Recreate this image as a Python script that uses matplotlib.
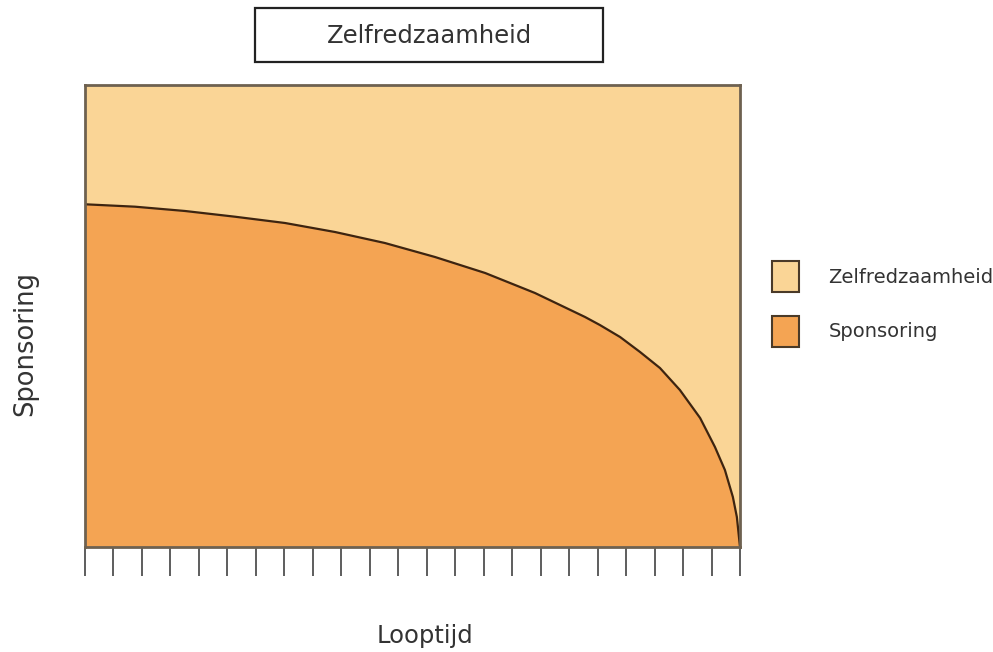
import numpy as np
import matplotlib
matplotlib.use("Agg")
import matplotlib.pyplot as plt
from matplotlib.patches import Patch, Rectangle

# Data (x in tick units, y in % of axis height)
looptijd = [0, 1.756, 3.511, 5.267, 7.023, 8.779, 10.53, 12.29, 14.05, 15.80,
            17.56, 18.08, 18.79, 19.49, 20.19, 20.89, 21.60, 22.12, 22.47,
            22.75, 22.89, 23.0]
sponsoring = [74.18, 73.66, 72.73, 71.49, 70.13, 68.18, 65.80, 62.77, 59.31,
              54.98, 49.78, 48.05, 45.45, 42.21, 38.74, 33.98, 27.92, 21.65,
              16.67, 10.82, 6.49, 0]
tick_pos = list(range(24))

series_names = ["Zelfredzaamheid", "Sponsoring"]
lightColor = "#fad596"
orangeColor = "#f4a453"
edgeColor = "#4a3a28"
curveColor = "#3d2410"

fig = plt.figure(figsize=(9.93, 6.52), dpi=100)
ax = fig.add_axes([85 / 993, 105 / 652, 655 / 993, 462 / 652])

x = np.array(looptijd)
y = np.array(sponsoring)

ax.fill_between(x, y, 100, color=lightColor, lw=0)
ax.fill_between(x, 0, y, color=orangeColor, lw=0)
ax.plot(x, y, color=curveColor, lw=1.6, solid_joinstyle="round")

ax.set_xlim(0, 23)
ax.set_ylim(0, 100)
ax.set_facecolor(lightColor)

for s in ax.spines.values():
    s.set_color("#6e6150")
    s.set_linewidth(2)

ax.set_xticks(tick_pos)
ax.set_xticklabels([])
ax.set_yticks([])
ax.tick_params(axis="x", direction="out", length=21, width=1.3, color="#505050")

# Title box
fig.patches.append(Rectangle((255 / 993, 1 - 62 / 652), 348 / 993, 54 / 652,
                             transform=fig.transFigure, facecolor="white",
                             edgecolor="#222222", lw=1.6))
fig.text(429 / 993, 1 - 36 / 652, "Zelfredzaamheid", ha="center", va="center",
         fontsize=17.5, color="#333333")

# Axis labels
fig.text(425 / 993, 1 - 636 / 652, "Looptijd", ha="center", va="center",
         fontsize=17.5, color="#333333")
fig.text(25 / 993, 1 - 343 / 652, "Sponsoring", ha="center", va="center",
         rotation=90, fontsize=18.5, color="#333333")

# Legend
handles = [Patch(facecolor=lightColor, edgecolor=edgeColor, lw=1.5),
           Patch(facecolor=orangeColor, edgecolor=edgeColor, lw=1.5)]
fig.legend(handles, series_names, loc="upper left",
           bbox_to_anchor=(772 / 993, 1 - 261 / 652), frameon=False,
           fontsize=14, handlelength=1.4, handleheight=2.1,
           handletextpad=1.5, labelspacing=1.2, borderpad=0, borderaxespad=0,
           labelcolor="#333333")

fig.savefig("out.png", dpi=100)
